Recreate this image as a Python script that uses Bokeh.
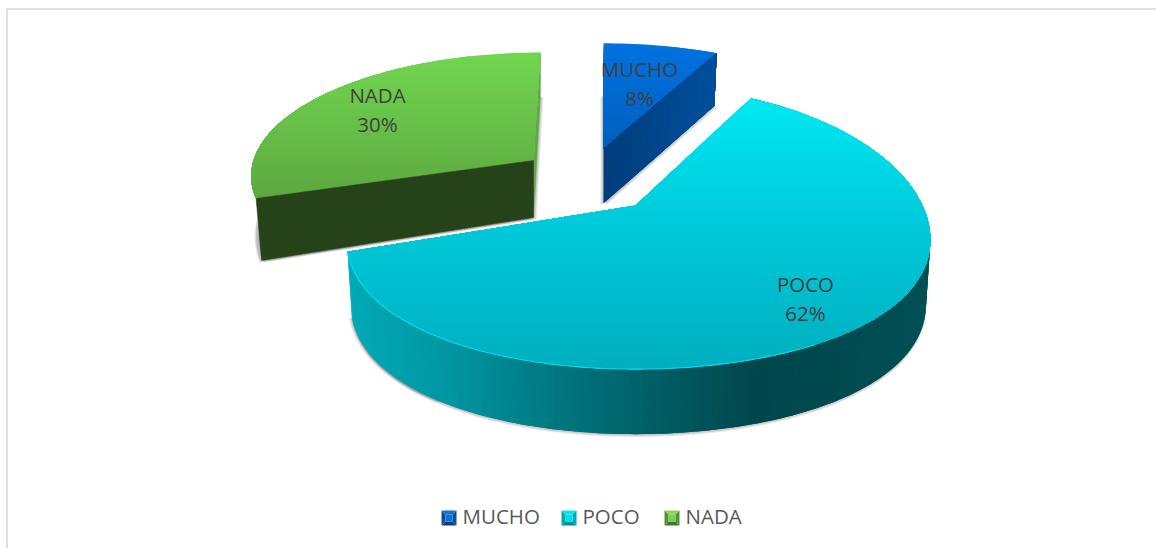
import math
from bokeh.plotting import figure
from bokeh.models import Range1d
from bokeh.core.properties import value
from bokeh.embed import file_html
from bokeh.resources import INLINE

categories = ["MUCHO", "POCO", "NADA"]
values = [8, 62, 30]

# 3D projection settings of each exploded slice (apex, radii, perspective, extrusion)
SHAPE = {
    "MUCHO": dict(ax=603, ay=148, rx=305, ry=141, kx=.34, kb=.34, kf=.34, shear=0, s=.98, sy=1.03, d=55, xl=1),
    "POCO": dict(ax=635, ay=205, rx=287, ry=144, kx=.23, kb=.2, kf=.12, shear=0, s=.985, sy=1.0, d=65, xl=.98),
    "NADA": dict(ax=533, ay=160, rx=280, ry=119, kx=.102, kb=.102, kf=.102, shear=-.065, s=.98, sy=1.13, d=57, xl=1),
}
TOP_GRAD = {
    "MUCHO": [(43, "#0072e0"), (150, "#005fbe")],
    "POCO": [(98, "#00e8f3"), (230, "#00c8d8"), (369, "#00afbf")],
    "NADA": [(52, "#72d650"), (198, "#5ca840")],
}
WALL_GRAD = [(347, "#00aab7"), (450, "#0097a3"), (532, "#007f88"), (648, "#006169"),
             (763, "#00474c"), (840, "#004a4f"), (929, "#005056")]
SWATCH = {"MUCHO": ("#1f6fc8", "#0f4f98", "#0b3f80", "#0f72d8"),
          "POCO": ("#10e0ee", "#00a9b8", "#008e9b", "#00e0ee"),
          "NADA": ("#86d65e", "#4f9436", "#3f7a2a", "#7ccc58")}
LABEL_POS = {"MUCHO": (639, 68), "POCO": (805, 283), "NADA": (377, 94)}
FONT = "Open Sans"
FS = "20.5px"


def hex2(c):
    return [int(c[i:i + 2], 16) for i in (1, 3, 5)]


def ramp(stops, t):
    if t <= stops[0][0]:
        return stops[0][1]
    for (a, ca), (b, cb) in zip(stops, stops[1:]):
        if t <= b:
            f = (t - a) / (b - a)
            return "#%02x%02x%02x" % tuple(round(x + (y - x) * f) for x, y in zip(hex2(ca), hex2(cb)))
    return stops[-1][1]


def flat(cfg, deg):
    th = math.radians(deg)
    u, v = math.sin(th), math.cos(th)
    ky = cfg["kb"] if v >= 0 else cfg["kf"]
    X = cfg["rx"] * u / (1 + cfg["kx"] * v)
    if X < 0:
        X *= cfg["xl"]
    Y = -cfg["ry"] * v / (1 + ky * v)
    return X + cfg["shear"] * Y, Y


def top_pt(cfg, deg):
    X, Y = flat(cfg, deg)
    return cfg["ax"] + X, cfg["ay"] + Y


def bot_pt(cfg, deg):
    X, Y = flat(cfg, deg)
    return cfg["ax"] + cfg["s"] * X, cfg["ay"] + cfg["sy"] * Y + cfg["d"]


def apex_bot(cfg):
    return cfg["ax"], cfg["ay"] + cfg["d"]


def clip_below(poly, y0):
    """Keep the part of poly lying at or under the row y0."""
    out = []
    for i, q in enumerate(poly):
        r = poly[(i + 1) % len(poly)]
        if q[1] >= y0:
            out.append(q)
        if (q[1] >= y0) != (r[1] >= y0):
            f = (y0 - q[1]) / (r[1] - q[1])
            out.append((q[0] + (r[0] - q[0]) * f, y0))
    return out


def frange(a, b, step):
    n = max(2, int(abs(b - a) / step) + 1)
    return [a + (b - a) * i / (n - 1) for i in range(n)]


def bands(p, poly, stops, step=4):
    """Vertical gradient: each later band is painted over the earlier one, so no seams appear."""
    ys = [q[1] for q in poly]
    y = min(ys)
    xs_l, ys_l, cols = [], [], []
    while y < max(ys):
        part = clip_below(poly, y)
        if len(part) > 2:
            xs_l.append([q[0] for q in part])
            ys_l.append([q[1] for q in part])
            cols.append(ramp(stops, y + step / 2))
        y += step
    p.patches(xs_l, ys_l, fill_color=cols, line_color=None)


p = figure(width=1156, height=548, output_backend="svg", toolbar_location=None,
           x_range=Range1d(0, 1156), y_range=Range1d(548, 0), min_border=0)
p.axis.visible = False
p.grid.visible = False
p.outline_line_color = None
p.background_fill_color = "white"

# chart frame
p.line([6.5, 6.5, 1156], [548, 8.5, 8.5], line_color="#d9d9d9", line_width=1.6)

# slice angles from the values, clockwise from north
total = sum(values)
span, start = {}, 0.0
for c, v in zip(categories, values):
    span[c] = (start, start + 360 * v / total)
    start += 360 * v / total


def shadow(cfg, a, b, dx, dy, alpha=.14):
    arc = frange(a, b, 2)
    xs = [apex_bot(cfg)[0]] + [bot_pt(cfg, t)[0] for t in arc]
    ys = [apex_bot(cfg)[1]] + [bot_pt(cfg, t)[1] for t in arc]
    for w in (1, 2, 3):
        p.patch([x + dx * w for x in xs], [y + dy * w for y in ys], fill_color="#555555",
                fill_alpha=alpha, line_color=None)


# ---- NADA ----
cfg = SHAPE["NADA"]
a, b = span["NADA"]
top = [(cfg["ax"], cfg["ay"])] + [top_pt(cfg, t) for t in frange(a, b, 1.5)]
shadow(cfg, a, b, 1, .7)
shadow(cfg, a, b, -.7, .7)
ax0, ay0 = top_pt(cfg, b)
bx0, by0 = bot_pt(cfg, b)
p.patch([ax0, cfg["ax"], apex_bot(cfg)[0], bx0], [ay0, cfg["ay"], apex_bot(cfg)[1], by0],
        fill_color="#5fa944", line_color="#5fa944", line_width=.5)
bands(p, top, TOP_GRAD["NADA"])
lx, ly = top_pt(cfg, a)
mx, my = bot_pt(cfg, a)
p.patch([cfg["ax"], lx, mx, apex_bot(cfg)[0]], [cfg["ay"], ly, my, apex_bot(cfg)[1]],
        fill_color="#264218", line_color="#264218", line_width=.5)

# ---- MUCHO ----
cfg = SHAPE["MUCHO"]
a, b = span["MUCHO"]
shadow(cfg, a, b, 1, .5)
shadow(cfg, a, b, -1, .5)
top = [(cfg["ax"], cfg["ay"])] + [top_pt(cfg, t) for t in frange(a, b, 1.5)]
bands(p, top, TOP_GRAD["MUCHO"])
rx0, ry0 = top_pt(cfg, b)
rx1, ry1 = bot_pt(cfg, b)
ab = apex_bot(cfg)
xs_l, ys_l, cols = [], [], []
for i in range(12):
    f0 = i / 12
    xs_l.append([cfg["ax"] + (rx0 - cfg["ax"]) * f0, rx0, rx1, ab[0] + (rx1 - ab[0]) * f0])
    ys_l.append([cfg["ay"] + (ry0 - cfg["ay"]) * f0, ry0, ry1, ab[1] + (ry1 - ab[1]) * f0])
    cols.append(ramp([(0, "#003d7c"), (1, "#00509e")], f0))
p.patches(xs_l, ys_l, fill_color=cols, line_color=None)

# ---- POCO ----
cfg = SHAPE["POCO"]
a, b = span["POCO"]
shadow(cfg, 95, b, 0, 1, .13)
shadow(cfg, 215, b, -1, .5, .12)
xs_l, ys_l, cols = [], [], []
arc = frange(a, b, 1)
# wall strips painted from the right to the left, each one reaching under its neighbour
for t0, t1 in zip(arc, arc[1:]):
    t2 = min(t1 + 1, b)
    q = [top_pt(cfg, t) for t in (t0, t1, t2)] + [bot_pt(cfg, t) for t in (t2, t1, t0)]
    xs_l.append([r[0] for r in q])
    ys_l.append([r[1] for r in q])
    cols.append(ramp(WALL_GRAD, (top_pt(cfg, t0)[0] + top_pt(cfg, t1)[0]) / 2))
xs_l.reverse(); ys_l.reverse(); cols.reverse()
p.patches(xs_l, ys_l, fill_color=cols, line_color=None)
top = [(cfg["ax"], cfg["ay"])] + [top_pt(cfg, t) for t in frange(a, b, 1)]
bands(p, top, TOP_GRAD["POCO"])
rim = frange(150, b, 1)
p.line([top_pt(cfg, t)[0] for t in rim], [top_pt(cfg, t)[1] for t in rim],
       line_color="#00dfee", line_width=1.1)

# ---- data labels ----
for c, v in zip(categories, values):
    x, y = LABEL_POS[c]
    p.text([x], [y], text=[c], text_font=value(FONT), text_font_size=FS, text_color="#404040",
           text_align="center", text_baseline="middle")
    p.text([x], [y + 29], text=[f"{v}%"], text_font=value(FONT), text_font_size=FS,
           text_color="#404040", text_align="center", text_baseline="middle")

# ---- legend ----
for c, (x0, tx) in zip(categories, [(441, 462), (561, 582), (664, 685)]):
    y0, sz, ins = 510, 15, 4
    lt, sd, bt, mid = SWATCH[c]
    x1, y1 = x0 + sz, y0 + sz
    p.patch([x0, x1, x1 - ins, x0 + ins], [y0, y0, y0 + ins, y0 + ins], fill_color=lt, line_color=None)
    p.patch([x0, x0 + ins, x0 + ins, x0], [y0, y0 + ins, y1 - ins, y1], fill_color=sd, line_color=None)
    p.patch([x1, x1 - ins, x1 - ins, x1], [y0, y0 + ins, y1 - ins, y1], fill_color=sd, line_color=None)
    p.patch([x0, x0 + ins, x1 - ins, x1], [y1, y1 - ins, y1 - ins, y1], fill_color=bt, line_color=None)
    p.patch([x0 + ins, x1 - ins, x1 - ins, x0 + ins], [y0 + ins, y0 + ins, y1 - ins, y1 - ins],
            fill_color=mid, line_color=None)
    p.text([tx], [515], text=[c], text_font=value(FONT), text_font_size=FS, text_color="#595959",
           text_align="left", text_baseline="middle")

open("out.html", "w").write(file_html(p, INLINE))
